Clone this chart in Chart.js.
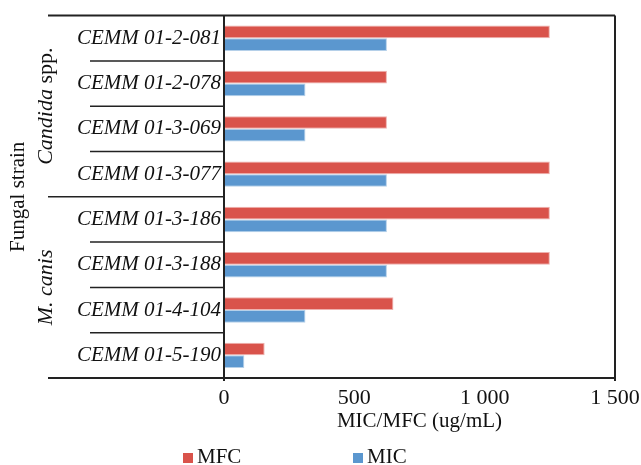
<!DOCTYPE html>
<html>
<head>
<meta charset="utf-8">
<script src="https://cdn.jsdelivr.net/npm/chart.js@4/dist/chart.umd.min.js"></script>
<style>
  body { margin: 0; background: #fff; }
  #wrap { width: 641px; height: 465px; }
</style>
</head>
<body>
<div id="wrap"><canvas id="myChart"></canvas></div>
<script>
// strains, top to bottom
const strains = [
  "CEMM 01-2-081", "CEMM 01-2-078", "CEMM 01-3-069", "CEMM 01-3-077",
  "CEMM 01-3-186", "CEMM 01-3-188", "CEMM 01-4-104", "CEMM 01-5-190"
];
// groups: [italic part, plain part, first index, last index]
const groups = [
  ["Candida", " spp.", 0, 3],
  ["M. canis", "", 4, 7]
];
const mfc = [1250, 625, 625, 1250, 1250, 1250, 650, 156];
const mic = [625, 312.5, 312.5, 625, 625, 625, 312.5, 78];
const xTicks = [0, 500, 1000, 1500];
const xTickLabels = ["0", "500", "1 000", "1 500"];

const serif = "'Liberation Serif', 'DejaVu Serif', serif";
const RED = "#d9534b";
const BLUE = "#5b97cf";
const FS = 21;

// box, separators, group labels and legend
const framePlugin = {
  id: "frame",
  afterDraw(chart) {
    const ctx = chart.ctx;
    const a = chart.chartArea;
    const y = chart.scales.y;
    const outer = 48, inner = 90;
    ctx.save();
    ctx.strokeStyle = "#222";
    ctx.lineWidth = 2;
    ctx.beginPath();
    ctx.moveTo(outer, a.top); ctx.lineTo(a.right, a.top);
    ctx.moveTo(outer, a.bottom); ctx.lineTo(a.right, a.bottom);
    ctx.moveTo(a.left, a.top); ctx.lineTo(a.left, a.bottom + 3);
    ctx.moveTo(a.right, a.top); ctx.lineTo(a.right, a.bottom + 3);
    ctx.stroke();

    const step = y.getPixelForValue(1) - y.getPixelForValue(0);
    ctx.lineWidth = 1.5;
    for (let i = 1; i < strains.length; i++) {
      const py = y.getPixelForValue(i) - step / 2;
      const isGroupEdge = groups.some(g => g[2] === i);
      ctx.beginPath();
      ctx.moveTo(isGroupEdge ? outer : inner, py);
      ctx.lineTo(a.left, py);
      ctx.stroke();
    }

    // rotated group labels
    ctx.fillStyle = "#111";
    ctx.textBaseline = "middle";
    groups.forEach(g => {
      const y0 = y.getPixelForValue(g[2]) - step / 2;
      const y1 = y.getPixelForValue(g[3]) + step / 2;
      const fi = "italic 22px " + serif, fn = "22px " + serif;
      ctx.font = fi; const w1 = ctx.measureText(g[0]).width;
      ctx.font = fn; const w2 = ctx.measureText(g[1]).width;
      ctx.save();
      ctx.translate(46, (y0 + y1) / 2);
      ctx.rotate(-Math.PI / 2);
      ctx.textAlign = "left";
      const sx = -(w1 + w2) / 2;
      ctx.font = fi; ctx.fillText(g[0], sx, 0);
      ctx.font = fn; ctx.fillText(g[1], sx + w1, 0);
      ctx.restore();
    });

    // legend
    const items = chart.data.datasets;
    const lx = [183, 353];
    ctx.font = FS + "px " + serif;
    ctx.textAlign = "left";
    items.forEach((ds, i) => {
      ctx.fillStyle = ds.backgroundColor;
      ctx.fillRect(lx[i], 453, 10, 10);
      ctx.fillStyle = "#111";
      ctx.fillText(ds.label, lx[i] + 14, 457);
    });
    ctx.restore();
  }
};

const ctx = document.getElementById("myChart").getContext("2d");
const chart = new Chart(ctx, {
  type: "bar",
  data: {
    labels: strains,
    datasets: [
      { label: "MFC", data: mfc, backgroundColor: RED, borderColor: "rgba(217,83,75,0.45)", borderWidth: 1, borderSkipped: false },
      { label: "MIC", data: mic, backgroundColor: BLUE, borderColor: "rgba(91,151,207,0.45)", borderWidth: 1, borderSkipped: false }
    ]
  },
  options: {
    indexAxis: "y",
    responsive: true,
    maintainAspectRatio: false,
    animation: false,
    events: [],
    datasets: { bar: { categoryPercentage: 0.56, barPercentage: 1 } },
    layout: { padding: { top: 14, right: 26, bottom: 31, left: 0 } },
    plugins: { legend: { display: false }, tooltip: { enabled: false } },
    scales: {
      x: {
        min: 0, max: 1500,
        afterBuildTicks: s => { s.ticks = xTicks.map(v => ({ value: v })); },
        afterFit: s => { s.height = 56; s.paddingLeft = 0; s.paddingRight = 0; },
        grid: { display: false, drawTicks: false },
        border: { display: false },
        ticks: {
          padding: 7,
          color: "#111",
          font: { family: serif, size: 22 },
          callback: (v) => xTickLabels[xTicks.indexOf(v)]
        },
        title: {
          display: true,
          text: "MIC/MFC (ug/mL)",
          color: "#111",
          font: { family: serif, size: FS },
          padding: 0
        }
      },
      y: {
        afterFit: s => { s.width = 224; },
        grid: { display: false, drawTicks: false },
        border: { display: false },
        ticks: {
          padding: 3,
          color: "#111",
          font: { family: serif, size: FS, style: "italic" }
        },
        title: {
          display: true,
          text: "Fungal strain",
          color: "#111",
          font: { family: serif, size: FS },
          padding: { top: 6, bottom: 0 }
        }
      }
    }
  },
  plugins: [framePlugin]
});
</script>
</body>
</html>
